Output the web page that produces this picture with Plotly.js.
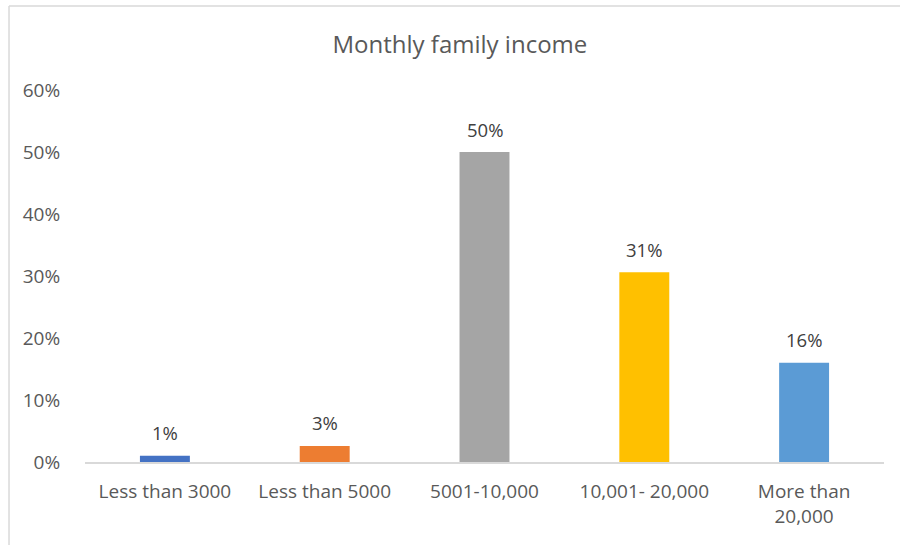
<!DOCTYPE html>
<html>
<head>
<meta charset="utf-8">
<script src="https://cdn.plot.ly/plotly-3.0.1.min.js"></script>
<style>
html, body { margin: 0; padding: 0; background: #fff; }
#chart { width: 900px; height: 545px; }
</style>
</head>
<body>
<div id="chart"></div>
<script>
const categories = ["Less than 3000", "Less than 5000", "5001-10,000", "10,001- 20,000", "More than<br>20,000"];
const values = [0.01, 0.026, 0.50, 0.306, 0.16];
const labels = ["1%", "3%", "50%", "31%", "16%"];
const colors = ["#4472C4", "#ED7D31", "#A5A5A5", "#FFC000", "#5B9BD5"];
const yTicks = [0, 0.1, 0.2, 0.3, 0.4, 0.5, 0.6];
const yTickLabels = ["0%", "10%", "20%", "30%", "40%", "50%", "60%"];

const textColor = "#595959";
const fontFam = "Open Sans, sans-serif";

const trace = {
  type: "bar",
  x: categories,
  y: values,
  marker: { color: colors },
  hoverinfo: "skip"
};

const annotations = categories.map((c, i) => ({
  x: c, y: values[i], xref: "x", yref: "y",
  text: labels[i], showarrow: false,
  yanchor: "middle", yshift: 23,
  font: { family: fontFam, size: 18.5, color: "#404040" }
}));

const layout = {
  width: 900, height: 545,
  margin: { l: 85, r: 16, t: 90, b: 83 },
  paper_bgcolor: "#fff", plot_bgcolor: "#fff",
  bargap: 0.6875,
  showlegend: false,
  title: {
    text: "Monthly family income",
    x: 0.511, xanchor: "center",
    y: 0.918, yanchor: "middle",
    font: { family: fontFam, size: 24, color: textColor }
  },
  xaxis: {
    type: "category",
    showgrid: false, zeroline: false,
    showline: true, linecolor: "#D9D9D9", linewidth: 1.5,
    ticks: "outside", ticklen: 12, tickcolor: "rgba(0,0,0,0)",
    tickfont: { family: fontFam, size: 19, color: textColor }
  },
  yaxis: {
    range: [0, 0.6],
    tickvals: yTicks, ticktext: yTickLabels,
    showgrid: false, zeroline: false, showline: false,
    ticks: "outside", ticklen: 20, tickcolor: "rgba(0,0,0,0)",
    tickfont: { family: fontFam, size: 19, color: textColor }
  },
  annotations: annotations,
  shapes: [
    { type: "line", xref: "paper", yref: "paper", x0: -0.0951, x1: 1.05, y0: 1.2258, y1: 1.2258,
      line: { color: "#D9D9D9", width: 1.5 } },
    { type: "line", xref: "paper", yref: "paper", x0: -0.0951, x1: -0.0951, y0: 1.2258, y1: -0.25,
      line: { color: "#D9D9D9", width: 1.5 } }
  ]
};

Plotly.newPlot("chart", [trace], layout, { displayModeBar: false, staticPlot: true });
</script>
</body>
</html>
